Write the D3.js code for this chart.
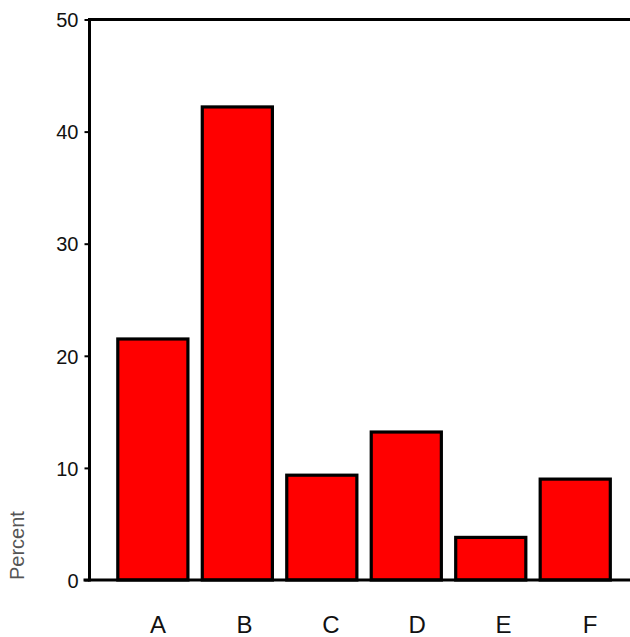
<!DOCTYPE html>
<html><head><meta charset="utf-8">
<script src="https://cdn.jsdelivr.net/npm/d3@7"></script>
<style>html,body{margin:0;padding:0;background:#fff;overflow:hidden;}svg{display:block;}</style>
</head><body>
<script>
const categories = ["A","B","C","D","E","F"];
const values = [21.5, 42.2, 9.35, 13.2, 3.8, 9.0];
const yTicks = [0,10,20,30,40,50];
const yLabel = "Percent";

const W = 630, H = 637;
const svg = d3.select("body").append("svg").attr("width", W).attr("height", H);
const font = "'Liberation Sans', Arial, sans-serif";

const x0 = 89.5, x1 = 638.6, yTop = 19.5, yBot = 580;
const x = d3.scaleBand().domain(categories).range([x0, x1]).paddingInner(0.17).paddingOuter(0.335);
const xl = d3.scalePoint().domain(categories).range([158, 590]);
const y = d3.scaleLinear().domain([0, 50]).range([yBot, yTop]);

// bars
svg.append("g").selectAll("rect").data(values).join("rect")
  .attr("x", (d,i) => x(categories[i]))
  .attr("width", x.bandwidth())
  .attr("y", d => y(d))
  .attr("height", d => y(0) - y(d))
  .attr("fill", "#ff0000")
  .attr("stroke", "#000")
  .attr("stroke-width", 3.2);

// y axis
const ya = svg.append("g").attr("transform", `translate(${x0},0)`)
  .call(d3.axisLeft(y).tickValues(yTicks).tickSize(5).tickPadding(6));
ya.select(".domain").remove();
ya.selectAll(".tick line").attr("stroke", "#000").attr("stroke-width", 2);
ya.selectAll(".tick text").attr("font-family", font).attr("font-size", 20).attr("fill", "#111").attr("dy", "0.36em");

// frame lines
svg.append("line").attr("x1", x0).attr("x2", x0).attr("y1", yTop - 1.5).attr("y2", yBot + 1.5).attr("stroke", "#000").attr("stroke-width", 3);
svg.append("line").attr("x1", x0 - 1.5).attr("x2", W + 10).attr("y1", yTop).attr("y2", yTop).attr("stroke", "#000").attr("stroke-width", 3);
svg.append("line").attr("x1", x0 - 6).attr("x2", W + 10).attr("y1", yBot).attr("y2", yBot).attr("stroke", "#000").attr("stroke-width", 3);

// category labels
svg.append("g").selectAll("text").data(categories).join("text")
  .attr("x", d => xl(d)).attr("y", 633)
  .attr("text-anchor", "middle")
  .attr("font-family", font).attr("font-size", 24).attr("fill", "#111")
  .text(d => d);

// y label
svg.append("text")
  .attr("transform", "translate(24,580) rotate(-90)")
  .attr("text-anchor", "start")
  .attr("font-family", font).attr("font-size", 20).attr("fill", "#555")
  .text(yLabel);
</script>
</body></html>
